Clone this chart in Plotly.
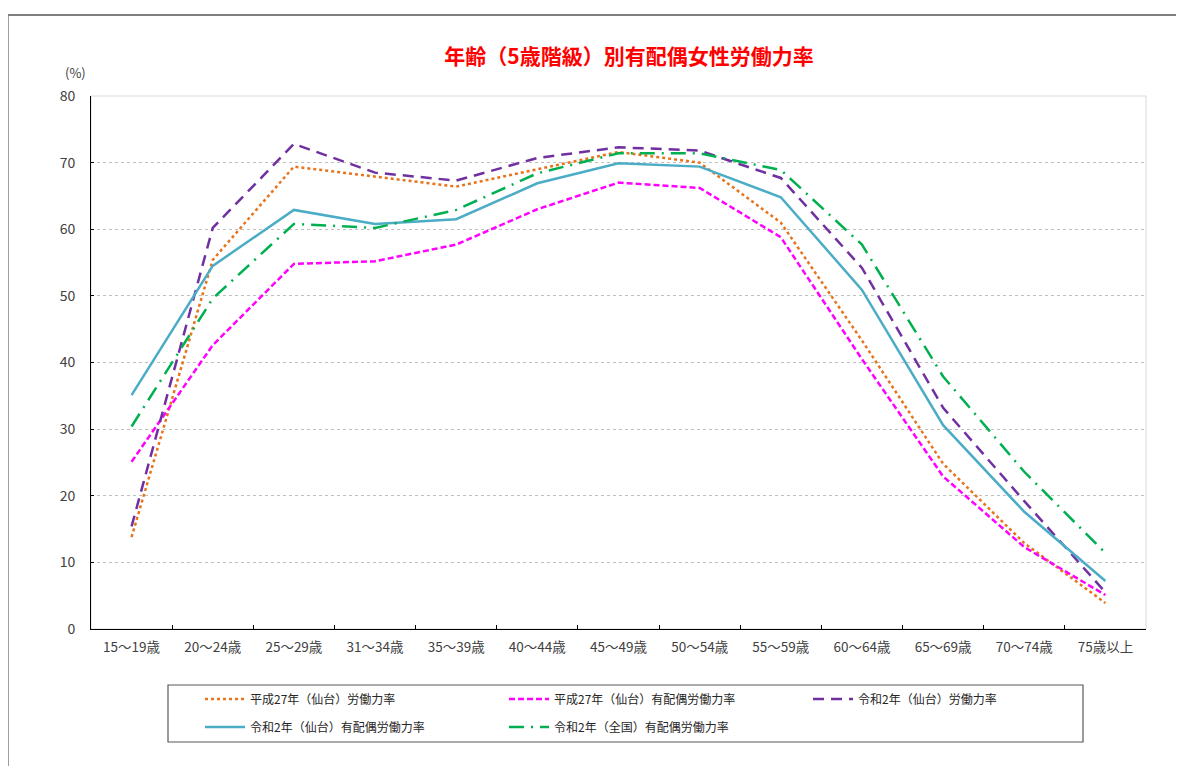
import plotly.graph_objects as go

categories = ["15～19歳", "20～24歳", "25～29歳", "31～34歳", "35～39歳", "40～44歳", "45～49歳",
              "50～54歳", "55～59歳", "60～64歳", "65～69歳", "70～74歳", "75歳以上"]

h27_sendai_labor = [13.8, 55.4, 69.4, 67.9, 66.4, 69.0, 71.6, 70.0, 61.0, 43.3, 24.8, 12.9, 3.9]
h27_sendai_married = [25.1, 42.6, 54.8, 55.2, 57.7, 63.0, 67.0, 66.2, 58.8, 40.5, 22.9, 12.3, 5.1]
r2_sendai_labor = [15.4, 60.2, 72.8, 68.5, 67.3, 70.7, 72.3, 71.8, 67.7, 54.2, 33.2, 19.2, 5.5]
r2_sendai_married = [35.1, 54.5, 62.9, 60.8, 61.5, 66.9, 69.9, 69.4, 64.8, 50.9, 30.6, 17.6, 7.2]
r2_national_married = [30.4, 49.6, 60.8, 60.2, 62.9, 68.4, 71.4, 71.4, 68.9, 57.7, 37.9, 23.6, 11.4]

names = ["平成27年（仙台）労働力率", "平成27年（仙台）有配偶労働力率", "令和2年（仙台）労働力率",
         "令和2年（仙台）有配偶労働力率", "令和2年（全国）有配偶労働力率"]

FONT = "Noto Sans CJK JP"

# page offset of the figure inside the browser (body margin)
OFF = 8
W, H = 1184, 766
L, R, T, B = 91 - OFF, 1184 - (1146 - OFF), 96 - OFF, 766 - (629 - OFF)
pw, ph = W - L - R, H - T - B

def px(x):
    return (x - OFF - L) / pw

def py(y):
    return (H - B - (y - OFF)) / ph

# legend slot positions (page pixels): (left, row centre)
slots = [(200, 699), (504, 699), (808, 699), (200, 727), (504, 727)]

series = [
    (h27_sendai_labor, names[0], "#E8731A", "dot", 2.5),
    (h27_sendai_married, names[1], "#FF00FF", "6px,3px", 2.5),
    (r2_sendai_labor, names[2], "#7030A0", "11px,7px", 2.5),
    (r2_sendai_married, names[3], "#4BACC6", "solid", 2.5),
    (r2_national_married, names[4], "#00B050", "15px,7px,2px,7px", 2.5),
]

fig = go.Figure()
legends = {}
for i, (vals, name, color, dash, w) in enumerate(series):
    lg = "legend" if i == 0 else f"legend{i + 1}"
    fig.add_trace(go.Scatter(x=categories, y=vals, name=name, mode="lines", showlegend=True,
                             line=dict(color=color, dash=dash, width=w), legend=lg))
    sx, sy = slots[i]
    legends[lg] = dict(orientation="h", xanchor="left", yanchor="middle",
                       x=px(sx), y=py(sy), itemwidth=40, visible=True,
                       font=dict(family=FONT, size=12, color="#262626"),
                       bgcolor="rgba(0,0,0,0)", borderwidth=0)

fig.update_layout(
    width=W, height=H,
    showlegend=True,
    margin=dict(l=L, r=R, t=T, b=B),
    paper_bgcolor="white", plot_bgcolor="white",
    font=dict(family=FONT, color="#404040"),
    title=dict(text="<b>年齢（5歳階級）別有配偶女性労働力率</b>", x=(629 - OFF) / W, xanchor="center",
               y=1 - (57 - OFF) / H, yanchor="middle", font=dict(family=FONT, size=21, color="#FF0000")),
    xaxis=dict(type="category", showgrid=False, showline=True, linecolor="#000000", linewidth=1,
               ticks="inside", tickson="boundaries", ticklen=4, tickcolor="#000000",
               ticklabelstandoff=6,
               tickfont=dict(family=FONT, size=13.5, color="#404040"), range=[-0.5, 12.5]),
    yaxis=dict(range=[0, 80], dtick=10, showgrid=True, gridcolor="#BFBFBF", griddash="dot",
               gridwidth=1, showline=True, linecolor="#000000", linewidth=1,
               ticks="inside", ticklen=3, tickcolor="#000000", zeroline=False,
               ticklabelstandoff=12,
               tickfont=dict(family=FONT, size=14, color="#404040")),
    annotations=[dict(text="(%)", xref="paper", yref="paper", x=px(75), y=py(73),
                      xanchor="center", yanchor="middle", showarrow=False,
                      font=dict(family=FONT, size=13, color="#404040"))],
    shapes=[
        dict(type="rect", xref="paper", yref="paper", x0=0, x1=1, y0=0, y1=1,
             line=dict(color="#D9D9D9", width=1), layer="below"),
        dict(type="rect", xref="paper", yref="paper", x0=px(168), x1=px(1083), y0=py(742), y1=py(685),
             line=dict(color="#595959", width=1.2), layer="below"),
        dict(type="line", xref="paper", yref="paper", x0=px(8), x1=px(1200), y0=py(15), y1=py(15),
             line=dict(color="#7F7F7F", width=2)),
        dict(type="line", xref="paper", yref="paper", x0=px(8), x1=px(8), y0=py(15), y1=py(790),
             line=dict(color="#7F7F7F", width=1.5)),
    ],
)
fig.update_layout(**legends)

fig.write_html("out.html")
